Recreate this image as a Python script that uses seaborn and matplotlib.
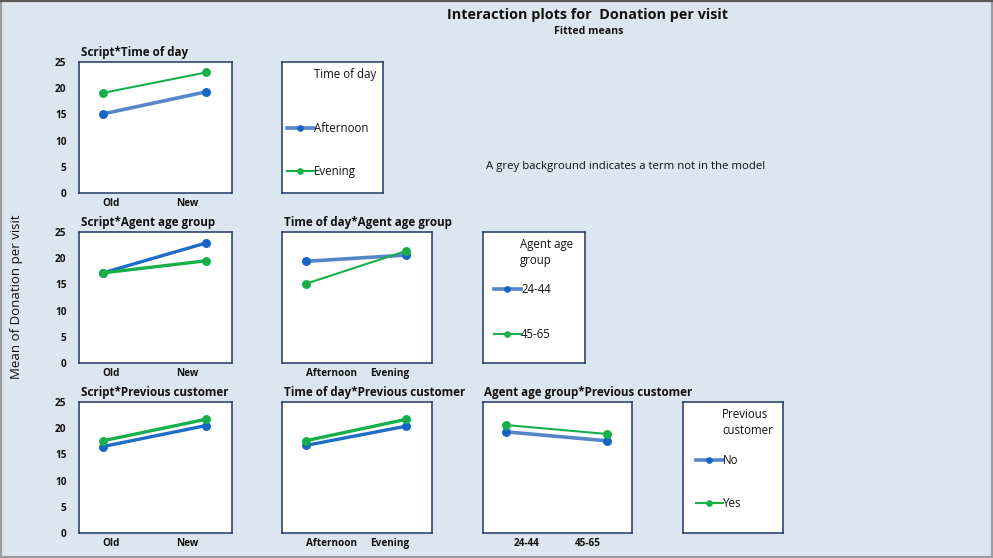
import matplotlib
matplotlib.use("Agg")
import matplotlib.pyplot as plt
from matplotlib.lines import Line2D
from matplotlib.patches import Rectangle
import seaborn as sns
import pandas as pd

# ---------------- data ----------------
script_levels = ["Old", "New"]
time_levels = ["Afternoon", "Evening"]
age_levels = ["24-44", "45-65"]
prev_levels = ["No", "Yes"]

# Script*Time of day
script_time_afternoon = [15.1, 19.3]
script_time_evening = [19.1, 23.0]
# Script*Agent age group
script_age_2444 = [17.2, 22.9]
script_age_4565 = [17.2, 19.5]
# Time of day*Agent age group
time_age_2444 = [19.4, 20.6]
time_age_4565 = [15.1, 21.4]
# Script*Previous customer
script_prev_no = [16.5, 20.5]
script_prev_yes = [17.6, 21.7]
# Time of day*Previous customer
time_prev_no = [16.7, 20.4]
time_prev_yes = [17.6, 21.7]
# Agent age group*Previous customer
age_prev_no = [19.3, 17.6]
age_prev_yes = [20.6, 18.9]

yticks = [0, 5, 10, 15, 20, 25]

# ---------------- style ----------------
BG = "#dce6f0"
FRAME = "#1f3864"
BLUE_MK = "#1565c8"
BLUE_LIGHT = "#5586c8"
BLUE_DARK = "#1c6cc8"
GREEN = "#16b04b"
W, H = 993, 558

plt.rcParams["font.family"] = ["Open Sans", "DejaVu Sans"]

fig = plt.figure(figsize=(W / 100, H / 100), dpi=100, facecolor=BG)


def box(x0, y0, x1, y1):
    return [x0 / W, 1 - y1 / H, (x1 - x0) / W, (y1 - y0) / H]


def frame_axes(ax):
    ax.set_facecolor("white")
    for s in ax.spines.values():
        s.set_color(FRAME)
        s.set_linewidth(1.1)


def make_df(xname, xlevels, hname, hlevels, series):
    rows = []
    for h, vals in zip(hlevels, series):
        for xv, v in zip(xlevels, vals):
            rows.append({xname: xv, hname: h, "Mean": v})
    return pd.DataFrame(rows)


def panel(rect, title, xname, xlevels, hname, hlevels, series, blue_color, blue_lw,
          green_lw, tickfrac, show_y):
    ax = fig.add_axes(rect)
    df = make_df(xname, xlevels, hname, hlevels, series)
    sns.pointplot(data=df, x=xname, y="Mean", hue=hname, order=xlevels,
                  hue_order=hlevels, palette=[BLUE_MK, GREEN], markers="o",
                  errorbar=None, legend=False, ax=ax)
    lines = [l for l in ax.lines if len(l.get_xdata()) == 2]
    styles = [(blue_color, blue_lw, BLUE_MK), (GREEN, green_lw, GREEN)]
    for ln, (c, lw, mc) in zip(lines, styles):
        ln.set_color(c)
        ln.set_linewidth(lw)
        ln.set_markerfacecolor(mc)
        ln.set_markeredgecolor(mc)
        ln.set_markersize(4.4)
        ln.set_solid_capstyle("butt")
    frame_axes(ax)
    xmin, xmax = -0.233, 1.253
    ax.set_xlim(xmin, xmax)
    ax.set_ylim(0, 25)
    ax.set_yticks(yticks)
    if show_y:
        ax.set_yticklabels([str(t) for t in yticks])
    else:
        ax.set_yticklabels([])
    ax.set_xticks([xmin + f * (xmax - xmin) for f in tickfrac])
    ax.set_xticklabels(xlevels)
    ax.tick_params(axis="both", length=0, labelsize=7.2, colors="#111111")
    ax.tick_params(axis="y", pad=9)
    ax.tick_params(axis="x", pad=3.5)
    for t in ax.get_xticklabels() + ax.get_yticklabels():
        t.set_fontweight("bold")
    ax.set_xlabel("")
    ax.set_ylabel("")
    ax.grid(False)
    ax.text(0.01, 1.025, title, transform=ax.transAxes, ha="left", va="bottom",
            fontsize=8.4, fontweight="bold", color="#111111")
    return ax


def legend_box(rect, title, title_x, levels, blue_color, green_lw, entry_top, handle_x,
               spacing):
    ax = fig.add_axes(rect)
    frame_axes(ax)
    ax.set_xticks([])
    ax.set_yticks([])
    ax.text(title_x, 0.955, title, transform=ax.transAxes, ha="left", va="top",
            fontsize=8.3, color="#111111", linespacing=1.35)
    handles = [
        Line2D([], [], color=blue_color, lw=2.6, marker="o", markersize=3.8,
               markerfacecolor=BLUE_MK, markeredgecolor=BLUE_MK),
        Line2D([], [], color=GREEN, lw=green_lw, marker="o", markersize=3.8,
               markerfacecolor=GREEN, markeredgecolor=GREEN),
    ]
    leg = ax.legend(handles, levels, loc="upper left", bbox_to_anchor=(handle_x, entry_top),
                    frameon=False, fontsize=8.3, handlelength=2.3, handletextpad=0.05,
                    labelspacing=spacing, borderaxespad=0, borderpad=0)
    for t in leg.get_texts():
        t.set_color("#111111")
    return ax


# Row 1
panel(box(79, 62, 232, 193), "Script*Time of day", "Script", script_levels,
      "Time of day", time_levels, [script_time_afternoon, script_time_evening],
      BLUE_LIGHT, 2.6, 1.5, (0.21, 0.71), True)
legend_box(box(282, 62, 383, 193), "Time of day", 0.32, time_levels, BLUE_LIGHT, 1.5,
           0.54, 0.05, 2.6)
# Row 2
panel(box(79, 232, 232, 363), "Script*Agent age group", "Script", script_levels,
      "Agent age group", age_levels, [script_age_2444, script_age_4565],
      BLUE_DARK, 2.4, 2.4, (0.21, 0.71), True)
panel(box(282, 232, 432, 363), "Time of day*Agent age group", "Time of day", time_levels,
      "Agent age group", age_levels, [time_age_2444, time_age_4565],
      BLUE_LIGHT, 2.6, 1.5, (0.33, 0.72), False)
legend_box(box(483, 232, 585, 363), "Agent age\ngroup", 0.36, age_levels, BLUE_LIGHT, 1.5,
           0.61, 0.11, 2.75)
# Row 3
panel(box(79, 402, 232, 533), "Script*Previous customer", "Script", script_levels,
      "Previous customer", prev_levels, [script_prev_no, script_prev_yes],
      BLUE_DARK, 2.4, 2.4, (0.21, 0.71), True)
panel(box(282, 402, 432, 533), "Time of day*Previous customer", "Time of day", time_levels,
      "Previous customer", prev_levels, [time_prev_no, time_prev_yes],
      BLUE_DARK, 2.4, 2.4, (0.33, 0.72), False)
panel(box(483, 402, 632, 533), "Agent age group*Previous customer", "Agent age group",
      age_levels, "Previous customer", prev_levels, [age_prev_no, age_prev_yes],
      BLUE_LIGHT, 2.6, 1.5, (0.295, 0.705), False)
legend_box(box(683, 402, 783, 533), "Previous\ncustomer", 0.39, prev_levels, BLUE_LIGHT, 1.5,
           0.605, 0.13, 2.6)

# Texts
fig.text(447 / W, 1 - 15 / H, "Interaction plots for  Donation per visit", ha="left",
         va="center", fontsize=10.4, fontweight="bold", color="#111111")
fig.text(589 / W, 1 - 31 / H, "Fitted means", ha="center", va="center", fontsize=7.6,
         fontweight="bold", color="#111111")
fig.text(17 / W, 1 - 297 / H, "Mean of Donation per visit", rotation=90, ha="center",
         va="center", fontsize=9.5, color="#111111")
fig.text(486 / W, 1 - 166 / H, "A grey background indicates a term not in the model",
         ha="left", va="center", fontsize=8.2, color="#111111")

# outer frame
fig.patches.append(Rectangle((0, 0), 1, 1, transform=fig.transFigure, fill=False,
                             edgecolor="#9c9c9c", linewidth=3.0))
fig.add_artist(Line2D([0, 1], [1 - 1 / H, 1 - 1 / H], transform=fig.transFigure,
                      color="#5a5a5a", lw=1.5))

fig.savefig("out.png", dpi=100, facecolor=BG)
